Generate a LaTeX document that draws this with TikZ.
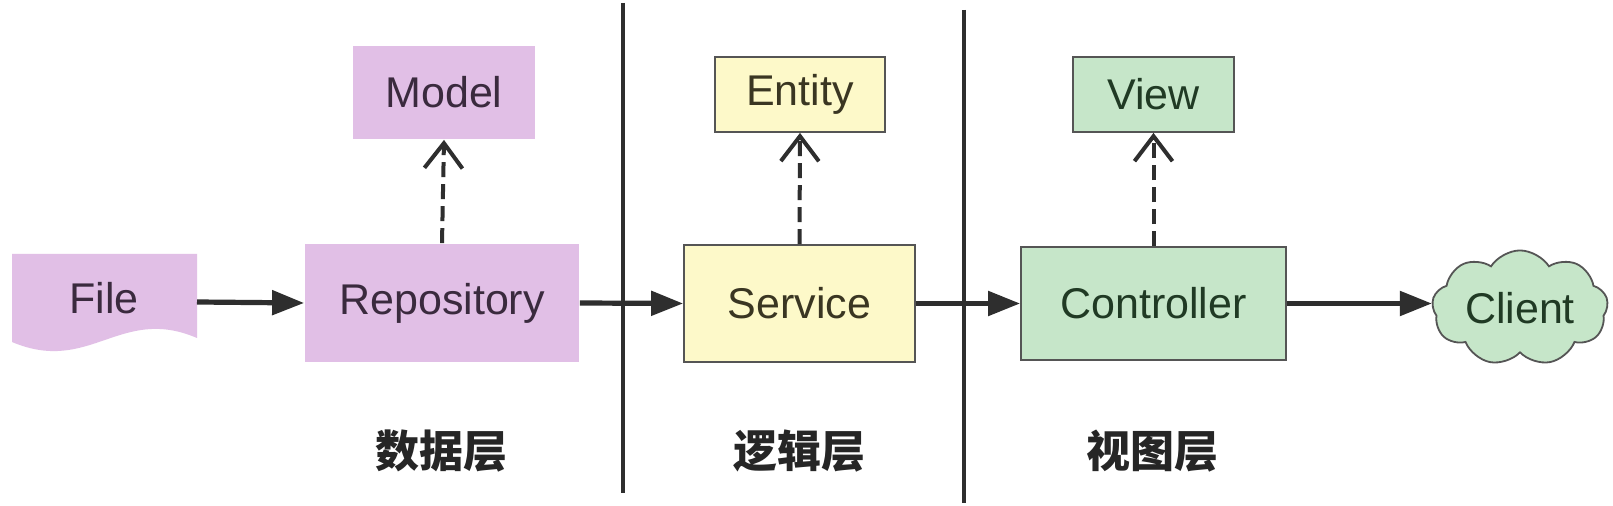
\documentclass[tikz,border=0pt]{standalone}
\usepackage{fontspec}
\setmainfont{Liberation Sans}
\newfontfamily\cjk{Noto Sans CJK SC}
\usetikzlibrary{arrows.meta,shapes.symbols}
\definecolor{purp}{HTML}{E1BFE6}
\definecolor{yel}{HTML}{FDF9C9}
\definecolor{grn}{HTML}{C6E6C9}
\definecolor{edgegray}{HTML}{555555}
\definecolor{ink}{HTML}{2E2E2E}
\definecolor{pink}{HTML}{3A2A3E}
\definecolor{ygink}{HTML}{3A3622}
\definecolor{gink}{HTML}{203A24}
\begin{document}
\begin{tikzpicture}[x=0.5pt,y=-0.5pt,
  box/.style={inner sep=0pt, font=\fontsize{21.5}{24}\selectfont, line width=0.9pt},
  pbox/.style={box, fill=purp, text=pink},
  ybox/.style={box, fill=yel, draw=edgegray, text=ygink},
  gbox/.style={box, fill=grn, draw=edgegray, text=gink},
  flow/.style={draw=ink, line width=2.6pt, -{Triangle[length=16pt,width=12pt]}},
  uses/.style={draw=ink, line width=2pt, dash pattern=on 7.5pt off 3.5pt, -{Straight Barb[length=12.5pt,width=19pt,line width=2pt]}},
  divider/.style={draw=ink, line width=1.6pt},
  layer/.style={font=\cjk\bfseries\fontsize{22}{24}\selectfont, text=black!85}
]
\useasboundingbox[fill=white] (0,0) rectangle (1613,506);

% dividers
\coordinate (d1t) at (623,3);
\coordinate (d1b) at (623,493);
\coordinate (d2t) at (964,10);
\coordinate (d2b) at (964,503);
\draw[divider] (d1t) -- (d1b);
\draw[divider] (d2t) -- (d2b);

% File (document shape)
\fill[purp] (12,254) -- (197,254) -- (197,338)
  .. controls (120,305) and (90,375) .. (12,342) -- cycle;
\node[box, text=pink] (file) at (104,298) {File};
\coordinate (fileE) at (197,302);

% boxes
\node[pbox, minimum width=91pt, minimum height=46.5pt] (model) at (444,92.5) {Model};
\node[pbox, minimum width=137pt, minimum height=59pt] (repo) at (442,303) {Repository};
\node[ybox, minimum width=85pt, minimum height=37.5pt] (entity) at (800,94.5) {Entity};
\node[ybox, minimum width=115.5pt, minimum height=58.5pt] (service) at (799.5,303.5) {Service};
\node[gbox, minimum width=80.5pt, minimum height=37.5pt] (view) at (1153.5,94.5) {View};
\node[gbox, minimum width=132.5pt, minimum height=56.5pt] (ctrl) at (1153.5,303.5) {Controller};
\node[box, cloud, cloud puffs=9, cloud puff arc=115, aspect=1.7, fill=grn, draw=edgegray, text=gink,
      minimum width=88pt, minimum height=52pt] (client) at (1520,308) {Client};

% connectors
\draw[flow] (fileE) -- (repo.west);
\draw[flow] (repo.east) -- (service.west);
\draw[flow] (service.east) -- (ctrl.west);
\draw[flow] (ctrl.east) -- (ctrl.east -| client.west);
\draw[uses] (repo.north) -- (model.south);
\draw[uses] (service.north) -- (entity.south);
\draw[uses] (ctrl.north) -- (view.south);

% layer labels
\node[layer] (l1) at (441,451) {数据层};
\node[layer] (l2) at (799,451) {逻辑层};
\node[layer] (l3) at (1152,451) {视图层};
\end{tikzpicture}
\end{document}
